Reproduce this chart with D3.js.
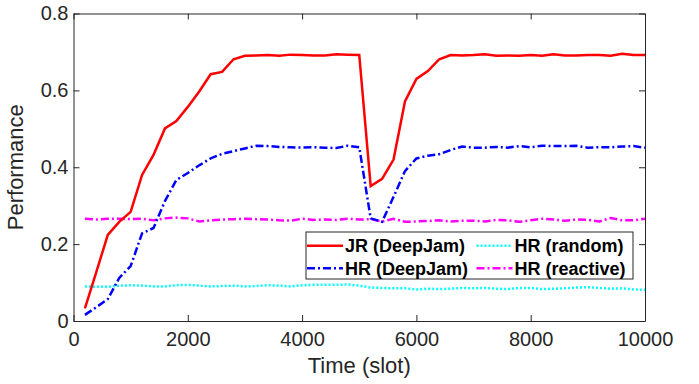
<!DOCTYPE html>
<html>
<head>
<meta charset="utf-8">
<script src="https://cdn.jsdelivr.net/npm/d3@7"></script>
<style>
  body { margin: 0; background: #fff; }
  text { font-family: "Liberation Sans", Arial, sans-serif; }
</style>
</head>
<body>
<div id="chart"></div>
<script>
const slots = [200, 400, 600, 800, 1000, 1200, 1400, 1600, 1800, 2000,
  2200, 2400, 2600, 2800, 3000, 3200, 3400, 3600, 3800, 4000,
  4200, 4400, 4600, 4800, 5000, 5200, 5400, 5600, 5800, 6000,
  6200, 6400, 6600, 6800, 7000, 7200, 7400, 7600, 7800, 8000,
  8200, 8400, 8600, 8800, 9000, 9200, 9400, 9600, 9800, 10000];

const jrDeepJam = [0.033, 0.128, 0.224, 0.258, 0.284, 0.380, 0.432, 0.501, 0.520, 0.557,
  0.597, 0.642, 0.648, 0.681, 0.690, 0.691, 0.692, 0.690, 0.693, 0.692,
  0.691, 0.691, 0.694, 0.693, 0.692, 0.351, 0.370, 0.420, 0.571, 0.630,
  0.650, 0.681, 0.692, 0.691, 0.692, 0.694, 0.690, 0.691, 0.690, 0.692,
  0.690, 0.694, 0.691, 0.691, 0.692, 0.692, 0.690, 0.695, 0.692, 0.692];

const hrDeepJam = [0.016, 0.036, 0.057, 0.112, 0.143, 0.228, 0.242, 0.312, 0.367, 0.385,
  0.405, 0.423, 0.435, 0.442, 0.449, 0.456, 0.455, 0.453, 0.452, 0.451,
  0.452, 0.451, 0.450, 0.456, 0.452, 0.267, 0.258, 0.323, 0.390, 0.423,
  0.430, 0.434, 0.445, 0.454, 0.451, 0.451, 0.453, 0.451, 0.455, 0.452,
  0.456, 0.455, 0.455, 0.456, 0.451, 0.452, 0.452, 0.454, 0.455, 0.451];

const hrRandom = [0.090, 0.089, 0.089, 0.092, 0.093, 0.092, 0.090, 0.090, 0.093, 0.094,
  0.092, 0.090, 0.091, 0.092, 0.090, 0.091, 0.093, 0.092, 0.090, 0.093,
  0.094, 0.094, 0.094, 0.095, 0.092, 0.087, 0.086, 0.085, 0.085, 0.082,
  0.084, 0.083, 0.084, 0.086, 0.085, 0.086, 0.084, 0.083, 0.086, 0.086,
  0.083, 0.084, 0.085, 0.087, 0.088, 0.086, 0.084, 0.085, 0.082, 0.081];

const hrReactive = [0.266, 0.264, 0.266, 0.266, 0.265, 0.266, 0.262, 0.267, 0.269, 0.267,
  0.259, 0.262, 0.264, 0.265, 0.266, 0.265, 0.264, 0.262, 0.261, 0.266,
  0.263, 0.264, 0.263, 0.266, 0.264, 0.265, 0.259, 0.266, 0.258, 0.259,
  0.260, 0.262, 0.259, 0.261, 0.261, 0.259, 0.263, 0.262, 0.258, 0.262,
  0.266, 0.264, 0.261, 0.264, 0.263, 0.259, 0.268, 0.262, 0.262, 0.266];

const xTicks = [0, 2000, 4000, 6000, 8000, 10000];
const yTicks = [0, 0.2, 0.4, 0.6, 0.8];

const series = [
  { name: 'JR (DeepJam)', values: jrDeepJam, color: '#ff0000', dash: null },
  { name: 'HR (DeepJam)', values: hrDeepJam, color: '#0000ff', dash: '8,3,2,3' },
  { name: 'HR (random)', values: hrRandom, color: '#00ffff', dash: '2,2' },
  { name: 'HR (reactive)', values: hrReactive, color: '#ff00ff', dash: '8,3,2,3' }
];

const W = 699, H = 384;
const margin = { top: 13.5, right: 54, bottom: 63, left: 73.5 };
const width = W - margin.left - margin.right;
const height = H - margin.top - margin.bottom;
const axisColor = '#262626';

const svg = d3.select('#chart').append('svg')
  .attr('width', W)
  .attr('height', H);

const g = svg.append('g')
  .attr('transform', `translate(${margin.left},${margin.top})`);

const x = d3.scaleLinear().domain([0, 10000]).range([0, width]);
const y = d3.scaleLinear().domain([0, 0.8]).range([height, 0]);

// axes, box style with inward ticks
const styleAxis = sel => {
  sel.selectAll('path').attr('stroke', axisColor);
  sel.selectAll('line').attr('stroke', axisColor);
  sel.selectAll('text').attr('fill', axisColor).style('font-size', '20px');
};

g.append('g')
  .attr('transform', `translate(0,${height})`)
  .call(d3.axisBottom(x).tickValues(xTicks).tickSizeInner(-6).tickSizeOuter(0).tickPadding(11).tickFormat(d3.format('d')))
  .call(styleAxis);

g.append('g')
  .call(d3.axisTop(x).tickValues(xTicks).tickSizeInner(-6).tickSizeOuter(0).tickFormat(''))
  .call(styleAxis);

g.append('g')
  .call(d3.axisLeft(y).tickValues(yTicks).tickSizeInner(-6).tickSizeOuter(0).tickPadding(5).tickFormat(d => d === 0 ? '0' : d3.format('.1f')(d)))
  .call(styleAxis);

g.append('g')
  .attr('transform', `translate(${width},0)`)
  .call(d3.axisRight(y).tickValues(yTicks).tickSizeInner(-6).tickSizeOuter(0).tickFormat(''))
  .call(styleAxis);

g.append('text')
  .attr('x', width / 2)
  .attr('y', height + 52)
  .attr('text-anchor', 'middle')
  .attr('fill', axisColor)
  .style('font-size', '22px')
  .text('Time (slot)');

g.append('text')
  .attr('transform', 'rotate(-90)')
  .attr('x', -height / 2)
  .attr('y', -51)
  .attr('text-anchor', 'middle')
  .attr('fill', axisColor)
  .style('font-size', '22px')
  .text('Performance');

const line = d3.line()
  .x((d, i) => x(slots[i]))
  .y(d => y(d));

// draw in reverse so red sits on top
[...series].reverse().forEach(s => {
  g.append('path')
    .datum(s.values)
    .attr('fill', 'none')
    .attr('stroke', s.color)
    .attr('stroke-width', 2.5)
    .attr('stroke-dasharray', s.dash)
    .attr('d', line);
});

// legend
const lg = svg.append('g').attr('transform', 'translate(306,232)');
lg.append('rect')
  .attr('width', 327)
  .attr('height', 47)
  .attr('fill', '#fff')
  .attr('stroke', axisColor)
  .attr('stroke-width', 1);

const cols = [1, 170.5];
const rows = [13.7, 36.3];
series.forEach((s, i) => {
  const cx = cols[i < 2 ? 0 : 1];
  const cy = rows[i % 2];
  lg.append('line')
    .attr('x1', cx).attr('x2', cx + 36)
    .attr('y1', cy).attr('y2', cy)
    .attr('stroke', s.color)
    .attr('stroke-width', 2.5)
    .attr('stroke-dasharray', s.dash);
  lg.append('text')
    .attr('x', cx + 38)
    .attr('y', cy)
    .attr('dy', '0.35em')
    .attr('fill', '#000')
    .style('font-size', '18px')
    .style('font-weight', 'bold')
    .text(s.name);
});
</script>
</body>
</html>
